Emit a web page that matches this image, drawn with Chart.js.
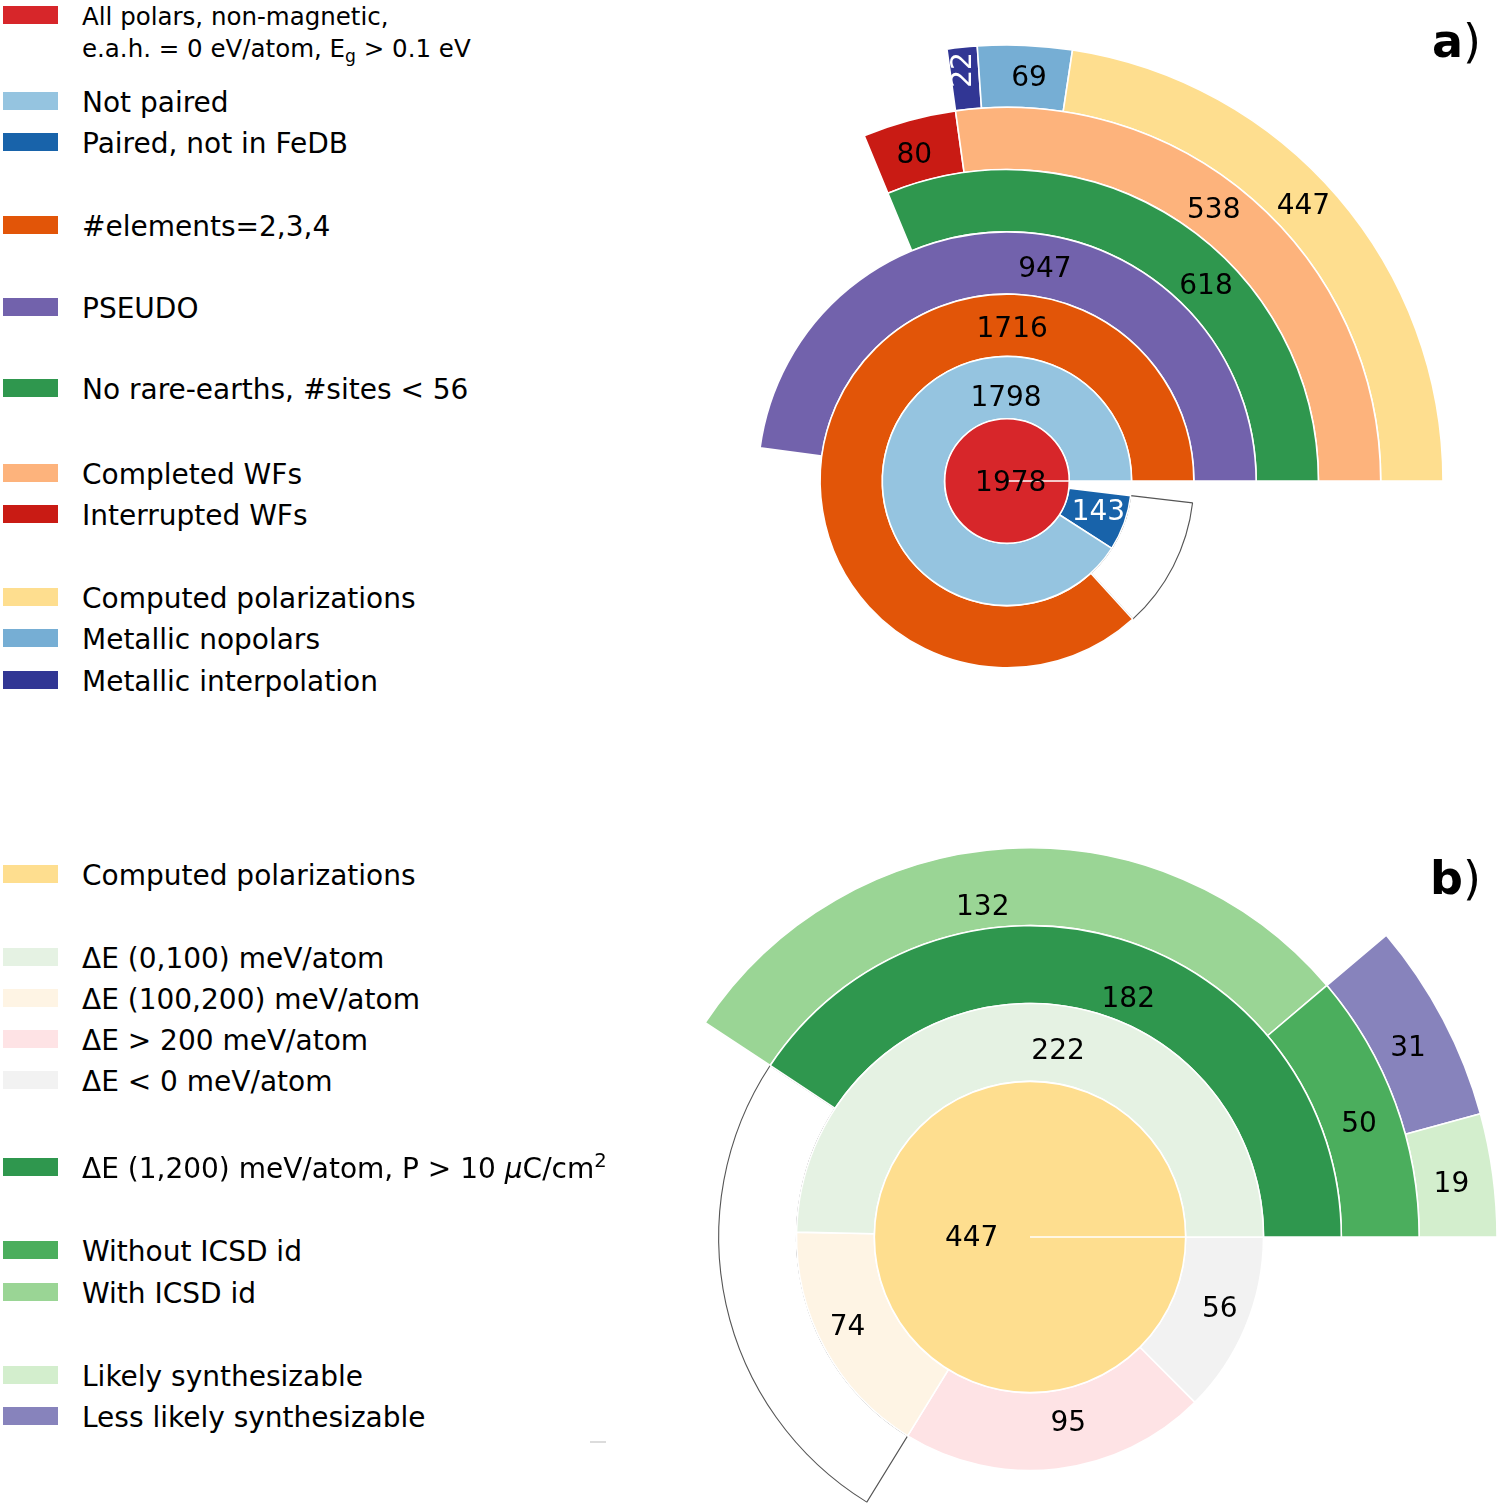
<!DOCTYPE html>
<html>
<head>
<meta charset="utf-8">
<script src="https://cdn.jsdelivr.net/npm/chart.js@4.4.1/dist/chart.umd.min.js"></script>
<style>
html,body{margin:0;padding:0;width:1500px;height:1509px;overflow:hidden;background:#fff;}
#page{position:relative;width:1500px;height:1509px;overflow:hidden;font-family:'DejaVu Sans',sans-serif;color:#000;}
.sw{position:absolute;left:3px;width:55px;height:18px;}
.lt{position:absolute;left:82px;font-size:28px;line-height:28px;white-space:nowrap;}
.lt sub{font-size:70%;line-height:0;vertical-align:-0.28em;}
.lt sup{font-size:70%;line-height:0;vertical-align:0.55em;}
canvas{position:absolute;}
.panel{position:absolute;font-weight:bold;font-size:46px;line-height:46px;white-space:nowrap;}
.panel span{font-weight:normal;}
</style>
</head>
<body>
<div id="page">
  <canvas id="ca" width="880" height="880" style="left:567px;top:41px;width:880px;height:880px"></canvas>
  <canvas id="cb" width="940" height="940" style="left:560px;top:767px;width:940px;height:940px"></canvas>
  <div id="legend"></div>
  <div class="panel" style="left:1432px;top:18px">a<span>)</span></div>
  <div class="panel" style="left:1430px;top:855px">b<span>)</span></div>
  <div style="position:absolute;left:590px;top:1441px;width:16px;height:2px;background:#dcdcdc"></div>
</div>
<script>
// ---------------- DATA ----------------
// Panel a: rings from the centre outwards, segments counter-clockwise from 3 o'clock
const aAllPolars    = [1978];          // All polars, non-magnetic, e.a.h. = 0, Eg > 0.1 eV
const aPairing      = [1798, 143];     // Not paired, Paired not in FeDB
const aElements     = [1716];          // #elements=2,3,4
const aPseudo       = [947];           // PSEUDO
const aNoRareEarth  = [618];           // No rare-earths, #sites < 56
const aWorkflows    = [538, 80];       // Completed WFs, Interrupted WFs
const aPolarization = [447, 69, 22];   // Computed polarizations, Metallic nopolars, Metallic interpolation

// Panel b
const bComputed = [447];               // Computed polarizations
const bEnergy   = [222, 74, 95, 56];   // dE (0,100), (100,200), >200, <0
const bStrong   = [182];               // dE (1,200), P > 10
const bIcsd     = [50, 132];           // Without ICSD id, With ICSD id
const bSynth    = [19, 31];            // Likely, Less likely synthesizable

// ---------------- STYLE ----------------
const aColAll   = ['#d7262a'];
const aColPair  = ['#95c4e0', '#1863aa'];
const aColElem  = ['#e25508'];
const aColPseu  = ['#7262ac'];
const aColRare  = ['#2f974e'];
const aColWf    = ['#fdb37c', '#c91b14'];
const aColPol   = ['#fede8f', '#76aed4', '#313694'];

const bColComp  = ['#fede8f'];
const bColEn    = ['#e5f2e3', '#fef4e4', '#fee3e5', '#f2f2f2'];
const bColStr   = ['#2f974e'];
const bColIcsd  = ['#4bae5d', '#9ad595'];
const bColSyn   = ['#d3eecd', '#8783bc'];

// label placement inside each arc: f = fraction along the arc (ccw), g = fraction across the ring
const aPlAll  = [{f:0, g:0.06}];
const aPlPair = [{f:0.277, g:0.37}, {f:0.58, g:0.54, color:'#fff'}];
const aPlElem = [{f:0.282, g:0.47}];
const aPlPseu = [{f:0.464, g:0.5}];
const aPlRare = [{f:0.398, g:0.5}];
const aPlWf   = [{f:0.54, g:0.5}, {f:0.54, g:0.47}];
const aPlPol  = [{f:0.53, g:0.52}, {f:0.44, g:0.52}, {f:0.62, g:0.64, color:'#fff', rot:true}];

const bPlComp = [{f:0.497, g:0.375}];
const bPlEn   = [{f:0.456, g:0.45}, {f:0.45, g:0.6}, {f:0.567, g:0.41}, {f:0.55, g:0.6}];
const bPlStr  = [{f:0.462, g:0.33}];
const bPlIcsd = [{f:0.48, g:0.48}, {f:0.544, g:0.31}];
const bPlSyn  = [{f:0.485, g:0.46}, {f:0.46, g:0.44}];

// ---------------- LEGEND ----------------
const legendEntries = [
  {t:'All polars, non-magnetic,<br>e.a.h. = 0 eV/atom, E<sub>g</sub> &gt; 0.1 eV', c:aColAll[0], y:15, two:true},
  {t:'Not paired', c:aColPair[0], y:101},
  {t:'Paired, not in FeDB', c:aColPair[1], y:142},
  {t:'#elements=2,3,4', c:aColElem[0], y:225},
  {t:'PSEUDO', c:aColPseu[0], y:307},
  {t:'No rare-earths, #sites &lt; 56', c:aColRare[0], y:388},
  {t:'Completed WFs', c:aColWf[0], y:473},
  {t:'Interrupted WFs', c:aColWf[1], y:514},
  {t:'Computed polarizations', c:aColPol[0], y:597},
  {t:'Metallic nopolars', c:aColPol[1], y:638},
  {t:'Metallic interpolation', c:aColPol[2], y:680},
  {t:'Computed polarizations', c:bColComp[0], y:874},
  {t:'ΔE (0,100) meV/atom', c:bColEn[0], y:957},
  {t:'ΔE (100,200) meV/atom', c:bColEn[1], y:998},
  {t:'ΔE &gt; 200 meV/atom', c:bColEn[2], y:1039},
  {t:'ΔE &lt; 0 meV/atom', c:bColEn[3], y:1080},
  {t:'ΔE (1,200) meV/atom, P &gt; 10 <i>μ</i>C/cm<sup>2</sup>', c:bColStr[0], y:1167},
  {t:'Without ICSD id', c:bColIcsd[0], y:1250},
  {t:'With ICSD id', c:bColIcsd[1], y:1292},
  {t:'Likely synthesizable', c:bColSyn[0], y:1375},
  {t:'Less likely synthesizable', c:bColSyn[1], y:1416}
];
const leg = document.getElementById('legend');
legendEntries.forEach(e => {
  const s = document.createElement('div');
  s.className = 'sw'; s.style.top = (e.y - 9) + 'px'; s.style.background = e.c;
  leg.appendChild(s);
  const t = document.createElement('div');
  t.className = 'lt'; t.innerHTML = e.t;
  if (e.two) {
    t.style.fontSize = '24.5px'; t.style.lineHeight = '31.5px'; t.style.top = (e.y - 14) + 'px';
  } else { t.style.top = (e.y - 12.5) + 'px'; }
  leg.appendChild(t);
});

// ---------------- CHART ----------------
const sum = a => a.reduce((p, v) => p + v, 0);

function ring(values, colors, place, total, outline, weight) {
  outline = outline || 0;
  const pad = total - sum(values) - outline;
  const data = [], bg = [], bc = [], bw = [], pl = [];
  if (pad > 0) { data.push(pad); bg.push('rgba(0,0,0,0)'); bc.push('rgba(0,0,0,0)'); bw.push(0); pl.push(null); }
  if (outline > 0) { data.push(outline); bg.push('rgba(0,0,0,0)'); bc.push('#555555'); bw.push(1.1); pl.push(null); }
  for (let i = values.length - 1; i >= 0; i--) {
    data.push(values[i]); bg.push(colors[i]); bc.push('#ffffff'); bw.push(1.6); pl.push(place[i]);
  }
  return {data, backgroundColor: bg, borderColor: bc, borderWidth: bw, hoverOffset: 0,
          weight: weight || 1, labelPlace: pl};
}

const ringLabels = {
  id: 'ringLabels',
  afterDatasetsDraw(chart) {
    const ctx = chart.ctx;
    chart.data.datasets.forEach((ds, di) => {
      const meta = chart.getDatasetMeta(di);
      meta.data.forEach((arc, i) => {
        const p = ds.labelPlace[i];
        if (!p) return;
        const {x, y, startAngle, endAngle, innerRadius, outerRadius} =
          arc.getProps(['x', 'y', 'startAngle', 'endAngle', 'innerRadius', 'outerRadius'], true);
        const ang = endAngle - p.f * (endAngle - startAngle);
        const r = innerRadius + p.g * (outerRadius - innerRadius);
        ctx.save();
        ctx.translate(x + r * Math.cos(ang), y + r * Math.sin(ang));
        if (p.rot) ctx.rotate(-Math.PI / 2);
        ctx.font = '28px "DejaVu Sans"';
        ctx.fillStyle = p.color || '#000';
        ctx.textAlign = 'center';
        ctx.textBaseline = 'alphabetic';
        ctx.fillText(String(ds.data[i]), 0, 10.2);
        ctx.restore();
      });
    });
  }
};

function makeChart(id, datasets, radius) {
  datasets.forEach((d, i) => { d.order = -i; });
  return new Chart(document.getElementById(id), {
    type: 'doughnut',
    data: {labels: [], datasets},
    options: {
      responsive: false, animation: false, events: [],
      rotation: 90, circumference: 360, cutout: 0, radius: radius,
      layout: {padding: 0},
      plugins: {legend: {display: false}, tooltip: {enabled: false}}
    },
    plugins: [ringLabels]
  });
}

const aTotal = aAllPolars[0];
makeChart('ca', [
  ring(aPolarization, aColPol, aPlPol, aTotal),
  ring(aWorkflows, aColWf, aPlWf, aTotal),
  ring(aNoRareEarth, aColRare, aPlRare, aTotal),
  ring(aPseudo, aColPseu, aPlPseu, aTotal),
  ring(aElements, aColElem, aPlElem, aTotal, sum(aPairing) - aElements[0]),
  ring(aPairing, aColPair, aPlPair, aTotal),
  ring(aAllPolars, aColAll, aPlAll, aTotal)
], 436);

const bTotal = bComputed[0];
makeChart('cb', [
  ring(bSynth, bColSyn, bPlSyn, bTotal),
  ring(bIcsd, bColIcsd, bPlIcsd, bTotal),
  ring(bStrong, bColStr, bPlStr, bTotal, bEnergy[0] + bEnergy[1] - bStrong[0]),
  ring(bEnergy, bColEn, bPlEn, bTotal),
  ring(bComputed, bColComp, bPlComp, bTotal, 0, 2)
], 467);
</script>
</body>
</html>
